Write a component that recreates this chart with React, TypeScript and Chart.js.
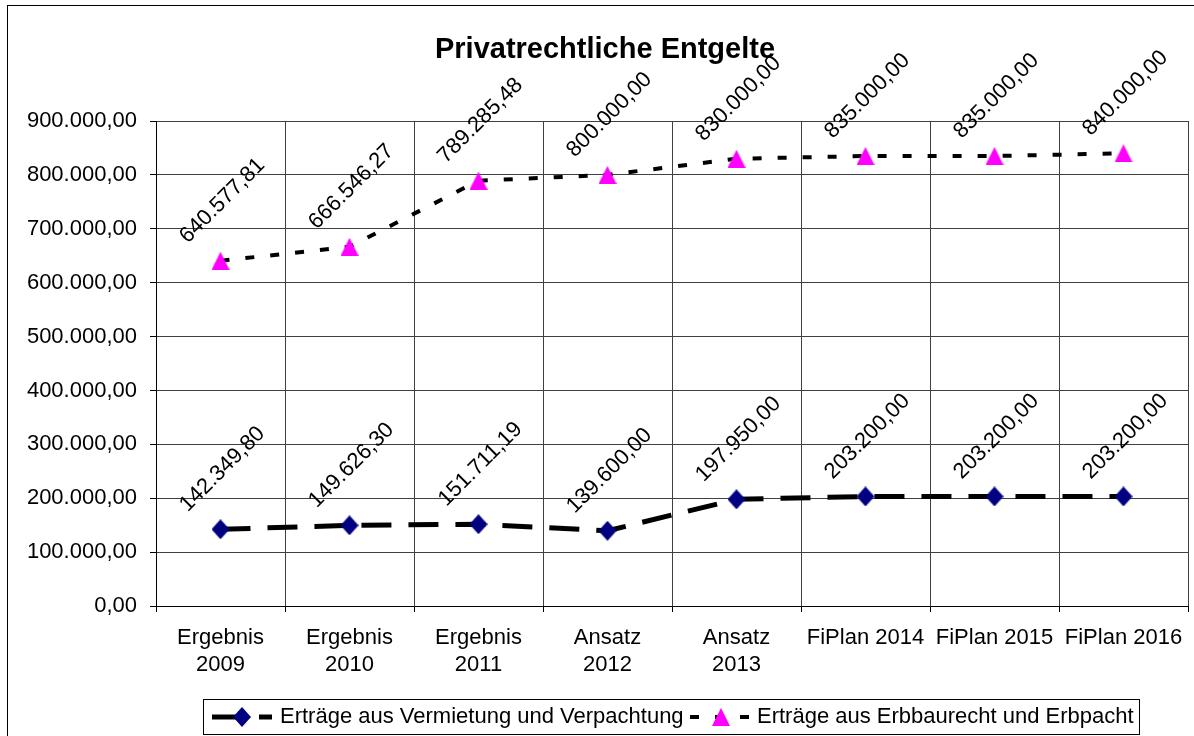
import React, { useEffect, useRef } from 'react';
import { Chart, registerables } from 'chart.js';

Chart.register(...registerables);

const chartTitle = 'Privatrechtliche Entgelte';
const categories: (string | string[])[] = [
  ['Ergebnis', '2009'],
  ['Ergebnis', '2010'],
  ['Ergebnis', '2011'],
  ['Ansatz', '2012'],
  ['Ansatz', '2013'],
  'FiPlan 2014',
  'FiPlan 2015',
  'FiPlan 2016',
];
const seriesNames = ['Erträge aus Vermietung und Verpachtung', 'Erträge aus Erbbaurecht und Erbpacht'];
const vermietung = [142349.8, 149626.3, 151711.19, 139600.0, 197950.0, 203200.0, 203200.0, 203200.0];
const erbbaurecht = [640577.81, 666546.27, 789285.48, 800000.0, 830000.0, 835000.0, 835000.0, 840000.0];
const yMin = 0;
const yMax = 900000;
const yStep = 100000;

const FONT = '"Liberation Sans", Arial, sans-serif';

function fmt(v: number): string {
  const fixed = Math.abs(v).toFixed(2);
  const [i, d] = fixed.split('.');
  const ii = i.replace(/\B(?=(\d{3})+(?!\d))/g, '.');
  return (v < 0 ? '-' : '') + ii + ',' + d;
}

function makeDiamond(w: number, h: number, color: string): HTMLCanvasElement {
  const c = document.createElement('canvas');
  c.width = w;
  c.height = h;
  const g = c.getContext('2d')!;
  g.fillStyle = color;
  g.beginPath();
  g.moveTo(w / 2, 0);
  g.lineTo(w, h / 2);
  g.lineTo(w / 2, h);
  g.lineTo(0, h / 2);
  g.closePath();
  g.fill();
  return c;
}

function makeTriangle(w: number, h: number, color: string): HTMLCanvasElement {
  const c = document.createElement('canvas');
  c.width = w;
  c.height = h;
  const g = c.getContext('2d')!;
  g.fillStyle = color;
  g.beginPath();
  g.moveTo(w / 2, 0);
  g.lineTo(w, h);
  g.lineTo(0, h);
  g.closePath();
  g.fill();
  return c;
}

export default function App() {
  const ref = useRef<HTMLCanvasElement | null>(null);

  useEffect(() => {
    if (!ref.current) return;
    const diamond = makeDiamond(18, 20, '#000080');
    const triangle = makeTriangle(18, 18, '#FF00FF');

    const framePlugin = {
      id: 'frame',
      beforeDraw(chart: any) {
        const ctx = chart.ctx;
        ctx.save();
        ctx.fillStyle = '#ffffff';
        ctx.fillRect(0, 0, chart.width, chart.height);
        ctx.strokeStyle = '#000';
        ctx.lineWidth = 1;
        ctx.strokeRect(7.5, 5.5, 1300, 900);
        ctx.restore();
      },
    };

    const titlePlugin = {
      id: 'customTitle',
      afterDraw(chart: any) {
        const ctx = chart.ctx;
        ctx.save();
        ctx.font = `bold 29px ${FONT}`;
        ctx.fillStyle = '#000';
        ctx.textAlign = 'center';
        ctx.textBaseline = 'alphabetic';
        ctx.fillText(chartTitle, 605, 58);
        ctx.restore();
      },
    };

    const labelPlugin = {
      id: 'dataLabels',
      afterDatasetsDraw(chart: any) {
        const ctx = chart.ctx;
        ctx.save();
        ctx.font = `22px ${FONT}`;
        ctx.fillStyle = '#000';
        ctx.textAlign = 'center';
        ctx.textBaseline = 'middle';
        chart.data.datasets.forEach((ds: any, di: number) => {
          const meta = chart.getDatasetMeta(di);
          meta.data.forEach((pt: any, i: number) => {
            ctx.save();
            ctx.translate(pt.x + 2, pt.y - 60);
            ctx.rotate(-Math.PI / 4);
            ctx.fillText(fmt(ds.data[i]), 0, 0);
            ctx.restore();
          });
        });
        ctx.restore();
      },
    };

    const legendPlugin = {
      id: 'customLegend',
      afterDraw(chart: any) {
        const ctx = chart.ctx;
        ctx.save();
        ctx.strokeStyle = '#000';
        ctx.lineWidth = 1;
        ctx.strokeRect(203.5, 699.5, 936, 35);
        const cy = 717;
        // series 1 sample
        ctx.strokeStyle = '#000';
        ctx.lineWidth = 5;
        ctx.setLineDash([30, 17]);
        ctx.beginPath();
        ctx.moveTo(212, cy);
        ctx.lineTo(272, cy);
        ctx.stroke();
        ctx.drawImage(diamond, 242 - diamond.width / 2, cy - diamond.height / 2);
        // series 2 sample
        ctx.lineWidth = 4;
        ctx.setLineDash([9, 16]);
        ctx.beginPath();
        ctx.moveTo(690, cy);
        ctx.lineTo(752, cy);
        ctx.stroke();
        ctx.setLineDash([]);
        ctx.drawImage(triangle, 721 - triangle.width / 2, cy - triangle.height / 2);
        ctx.font = `22px ${FONT}`;
        ctx.fillStyle = '#000';
        ctx.textAlign = 'left';
        ctx.textBaseline = 'middle';
        ctx.fillText(seriesNames[0], 280, cy);
        ctx.fillText(seriesNames[1], 757, cy);
        ctx.restore();
      },
    };

    const chart = new Chart(ref.current, {
      type: 'line',
      data: {
        labels: categories as any,
        datasets: [
          {
            label: seriesNames[0],
            data: vermietung,
            borderColor: '#000',
            backgroundColor: '#000080',
            borderWidth: 5,
            borderDash: [30, 17],
            borderCapStyle: 'butt',
            pointStyle: diamond as any,
            pointRadius: 10,
            tension: 0,
            fill: false,
            clip: false as any,
          },
          {
            label: seriesNames[1],
            data: erbbaurecht,
            borderColor: '#000',
            backgroundColor: '#FF00FF',
            borderWidth: 4,
            borderDash: [9, 16],
            borderCapStyle: 'butt',
            pointStyle: triangle as any,
            pointRadius: 10,
            tension: 0,
            fill: false,
            clip: false as any,
          },
        ],
      },
      options: {
        responsive: false,
        maintainAspectRatio: false,
        animation: false,
        devicePixelRatio: 1,
        layout: { autoPadding: false, padding: { top: 121, right: 6, bottom: 0, left: 0 } },
        plugins: {
          legend: { display: false },
          title: { display: false },
          tooltip: { enabled: false },
        },
        scales: {
          x: {
            offset: true,
            grid: { offset: true, color: '#404040', tickColor: '#000', tickLength: 6, lineWidth: 1 },
            border: { color: '#000', width: 1 },
            ticks: {
              font: { family: FONT, size: 22, lineHeight: 27 / 22 },
              color: '#000',
              padding: 12,
              maxRotation: 0,
              minRotation: 0,
              autoSkip: false,
            },
            afterFit: (s: any) => {
              s.height = 130;
              s.paddingLeft = 0;
              s.paddingRight = 0;
            },
          },
          y: {
            min: yMin,
            max: yMax,
            grid: { color: '#404040', tickColor: '#000', tickLength: 6, lineWidth: 1 },
            border: { color: '#000', width: 1 },
            ticks: {
              stepSize: yStep,
              callback: (v: any) => fmt(Number(v)),
              font: { family: FONT, size: 22 },
              color: '#000',
              padding: 13,
            },
            afterFit: (s: any) => {
              s.width = 156;
              s.paddingTop = 0;
              s.paddingBottom = 0;
            },
          },
        },
      },
      plugins: [framePlugin, titlePlugin, labelPlugin, legendPlugin],
    });

    return () => chart.destroy();
  }, []);

  return (
    <div style={{ position: 'absolute', left: 0, top: 0, width: 1194, height: 736 }}>
      <canvas ref={ref} width={1194} height={736} style={{ display: 'block' }} />
    </div>
  );
}
